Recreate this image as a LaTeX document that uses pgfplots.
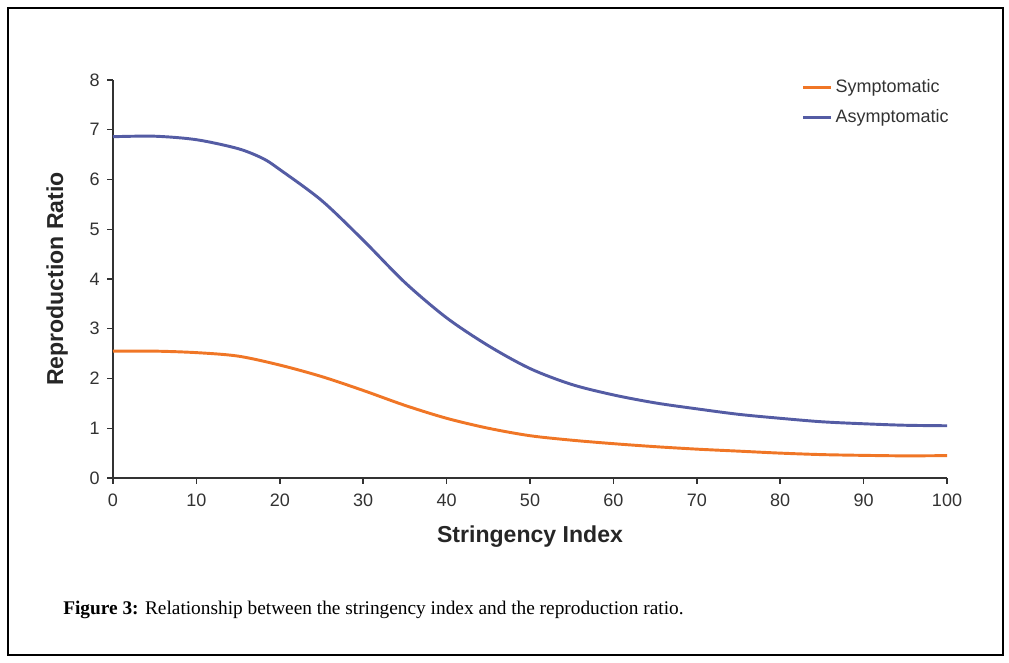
\documentclass[border=0pt]{standalone}
\usepackage{pgfplots}
\pgfplotsset{compat=1.18}
\usepackage{fontspec}
\setmainfont{Liberation Serif}
\newfontfamily\arial{Liberation Sans}
\definecolor{sympt}{RGB}{240,118,38}
\definecolor{asympt}{RGB}{84,92,164}
\definecolor{axgray}{RGB}{50,50,50}
\begin{document}
\begin{tikzpicture}[x=0.75pt,y=0.75pt]
\path (0,0) rectangle (1009,663);
\draw[line width=0.8pt,black] (8,8) rectangle (1003,655);
\begin{axis}[
  at={(113pt*0.75,185pt*0.75)}, anchor=origin,
  scale only axis, width=625.5pt, height=298.5pt,
  xmin=0, xmax=100, ymin=0, ymax=8,
  axis x line=bottom, axis y line=left,
  axis line style={-, axgray, line width=1.1pt},
  xtick={0,10,...,100}, ytick={0,1,...,8},
  tick align=outside, major tick length=4.5pt,
  tick style={axgray, line width=1.1pt},
  /pgf/number format/assume math mode=true,
  ticklabel style={font=\arial\fontsize{13.5pt}{16pt}\selectfont, text=axgray},
  xticklabel style={yshift=-4pt},
  yticklabel style={xshift=-2pt},
  xlabel={Stringency Index},
  ylabel={Reproduction Ratio},
  label style={font=\arial\bfseries\fontsize{17.3pt}{20pt}\selectfont, text=black!85},
  xlabel style={at={(axis description cs:0.5,-0.148)}, anchor=center},
  ylabel style={at={(axis description cs:-0.067,0.5)}, anchor=center, rotate=0},
  legend style={draw=none, fill=none, at={(axis description cs:0.821,1.0145)}, anchor=north west,
    font=\arial\fontsize{13.5pt}{16pt}\selectfont, text=axgray, row sep=7pt,
    legend cell align=left},
  legend image code/.code={\draw[#1, line width=2pt] (0pt,0pt) -- (15pt,0pt); \path (0pt,0pt) -- (21pt,0pt);},
  clip=false,
]
\addplot[sympt, line width=2.2pt, smooth] coordinates {
(0,2.55) (5,2.55) (10,2.52) (15,2.45) (20,2.27) (25,2.04) (30,1.76) (35,1.46) (40,1.20) (45,1.00) (50,0.85) (55,0.76) (60,0.69) (65,0.63) (70,0.58) (75,0.54) (80,0.50) (85,0.47) (90,0.455) (95,0.445) (100,0.45)
};
\addlegendentry{Symptomatic}
\addplot[asympt, line width=2.2pt, smooth] coordinates {
(0,6.86) (5,6.87) (10,6.80) (15,6.62) (18,6.42) (20,6.20) (25,5.58) (30,4.78) (35,3.93) (40,3.22) (45,2.66) (50,2.20) (55,1.88) (60,1.67) (65,1.51) (70,1.39) (75,1.28) (80,1.20) (85,1.13) (90,1.09) (95,1.06) (100,1.05)
};
\addlegendentry{Asymptomatic}
\end{axis}
\node[anchor=west, font=\fontsize{14.5pt}{17pt}\selectfont, inner sep=0pt] at (63,53) {\textbf{Figure 3:} Relationship between the stringency index and the reproduction ratio.};
\end{tikzpicture}
\end{document}
